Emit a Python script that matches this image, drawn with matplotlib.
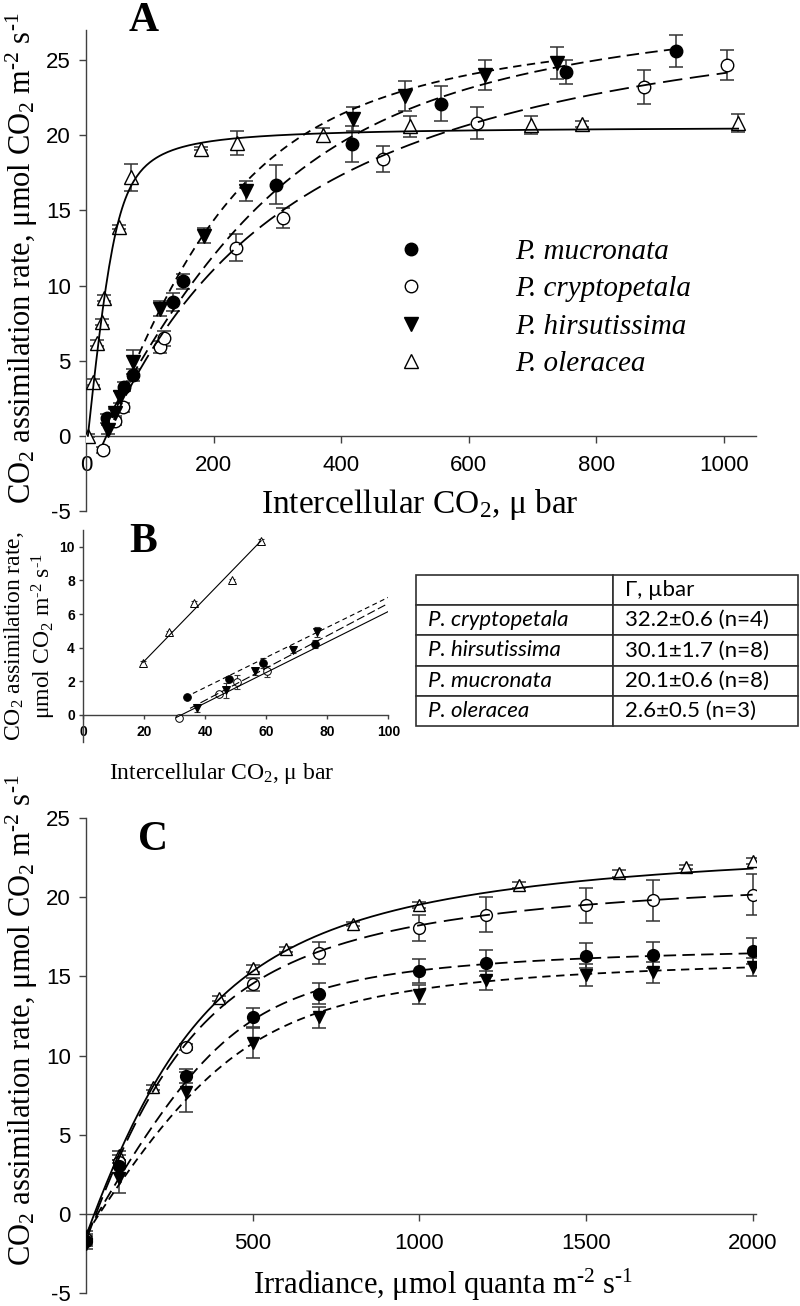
import matplotlib
matplotlib.use("Agg")
import matplotlib.pyplot as plt
import numpy as np

plt.rcParams["mathtext.fontset"] = "custom"
plt.rcParams["mathtext.rm"] = "Liberation Serif"
plt.rcParams["mathtext.it"] = "Liberation Serif:italic"
plt.rcParams["mathtext.bf"] = "Liberation Serif:bold"
plt.rcParams["axes.unicode_minus"] = False
plt.rcParams["lines.scale_dashes"] = False

SERIF = "Liberation Serif"
SANS = "Liberation Sans"
AXIS_COLOR = "#404040"
BAR_COLOR = "#333333"

# ---------------- panel A: A/Ci curves ----------------
a_mucro_x = [32.4, 59.6, 74, 136, 152.7, 298, 417, 556, 753, 924]
a_mucro_y = [1.17, 3.27, 4.04, 8.9, 10.3, 16.7, 19.4, 22.1, 24.2, 25.6]
a_mucro_e = [0.3, 0.3, 0.4, 0.6, 0.5, 1.3, 1.2, 1.15, 0.8, 1.05]

a_crypt_x = [26, 45.5, 58.5, 116, 122, 235, 308.5, 466, 613, 874, 1005]
a_crypt_y = [-0.93, 1.0, 1.9, 5.9, 6.5, 12.5, 14.5, 18.4, 20.8, 23.2, 24.7]
a_crypt_e = [0.2, 0.3, 0.3, 0.4, 0.5, 0.9, 0.66, 0.85, 1.05, 1.13, 1.0]

a_hirsu_x = [35, 45.5, 53, 74, 116, 185, 250, 418, 500, 626, 738]
a_hirsu_y = [0.4, 1.5, 2.6, 4.9, 8.45, 13.3, 16.3, 21.1, 22.6, 24.0, 24.8]
a_hirsu_e = [0.3, 0.3, 0.4, 0.8, 0.5, 0.5, 0.65, 0.8, 1.0, 1.0, 1.07]

a_olera_x = [3.6, 11.5, 16.7, 24.6, 28, 52, 70, 181, 236, 371, 507, 698, 777, 1022]
a_olera_y = [0.0, 3.6, 6.2, 7.6, 9.2, 13.9, 17.2, 19.1, 19.5, 20.0, 20.6, 20.7, 20.75, 20.8]
a_olera_e = [0.1, 0.2, 0.2, 0.2, 0.2, 0.15, 0.9, 0.1, 0.8, 0.45, 0.7, 0.6, 0.2, 0.6]

# fitted curves: (phi, Amax, theta, x0) and x range
a_fit = {
    "mucro": ((0.08, 30.0, 0.7, 20.0), (28, 924)),
    "crypt": ((0.095, 31.0, 0.2, 32.0), (26, 1005)),
    "hirsu": ((0.11, 28.5, 0.7, 30.0), (33, 738)),
    "olera": ((0.40, 20.6, 0.85, 3.0), (3, 1022)),
}

# ---------------- panel B: initial slopes ----------------
b_mucro_x = [33.9, 47.9, 59.0, 76.0]
b_mucro_y = [1.09, 2.12, 3.08, 4.2]
b_mucro_e = [0.05, 0.1, 0.3, 0.25]

b_crypt_x = [31.5, 44.5, 50.3, 60.1]
b_crypt_y = [-0.16, 1.23, 1.96, 2.58]
b_crypt_e = [0.05, 0.1, 0.4, 0.3]

b_hirsu_x = [37.2, 46.7, 56.3, 68.7, 76.7]
b_hirsu_y = [0.4, 1.47, 2.58, 3.87, 4.94]
b_hirsu_e = [0.25, 0.45, 0.2, 0.2, 0.3]

b_olera_x = [19.5, 28.2, 36.4, 48.6, 58.3]
b_olera_y = [3.08, 4.9, 6.65, 8.0, 10.35]
b_olera_e = [0.1, 0.1, 0.1, 0.1, 0.1]

# regression lines: (x-intercept, slope) and x range
b_fit = {
    "mucro": ((21.7, 0.0893), (33.5, 100)),
    "crypt": ((32.2, 0.0907), (30.5, 100)),
    "hirsu": ((31.0, 0.0961), (35.0, 100)),
    "olera": ((2.9, 0.187), (19.5, 58.3)),
}

table_species = ["P. cryptopetala", "P. hirsutissima", "P. mucronata", "P. oleracea"]
table_gamma = ["32.2\u00b10.6 (n=4)", "30.1\u00b11.7 (n=8)", "20.1\u00b10.6 (n=8)", "2.6\u00b10.5 (n=3)"]

# ---------------- panel C: light curves ----------------
c_olera_x = [0, 100, 200, 400, 500, 600, 800, 1000, 1300, 1600, 1800, 2000]
c_olera_y = [-1.4, 3.7, 8.0, 13.6, 15.5, 16.7, 18.3, 19.5, 20.75, 21.5, 21.9, 22.3]
c_olera_e = [0.3, 0.3, 0.15, 0.15, 0.2, 0.15, 0.15, 0.2, 0.2, 0.2, 0.15, 0.2]

c_x = [0, 100, 300, 500, 700, 1000, 1200, 1500, 1700, 2000]
c_crypt_y = [-1.6, 3.3, 10.55, 14.5, 16.5, 18.05, 18.9, 19.5, 19.8, 20.15]
c_crypt_e = [0.3, 0.4, 0.2, 0.4, 0.7, 0.83, 1.1, 1.1, 1.3, 1.3]
c_mucro_y = [-1.7, 3.0, 8.7, 12.4, 13.9, 15.35, 15.85, 16.3, 16.36, 16.6]
c_mucro_e = [0.3, 0.4, 0.45, 0.6, 0.65, 0.77, 0.8, 0.8, 0.83, 0.83]
c_hirsu_y = [-1.9, 2.27, 7.7, 10.8, 12.4, 13.85, 14.75, 15.1, 15.25, 15.6]
c_hirsu_e = [0.3, 0.95, 1.25, 0.93, 0.67, 0.6, 0.6, 0.7, 0.65, 0.55]

c_fit = {
    "mucro": ((0.036, 17.2, 0.85, 35.0), (0, 2000)),
    "crypt": ((0.055, 22.0, 0.6, 30.0), (0, 2000)),
    "hirsu": ((0.032, 16.6, 0.8, 40.0), (0, 2000)),
    "olera": ((0.055, 24.0, 0.6, 25.0), (0, 2000)),
}

LABELS = {"mucro": "P. mucronata", "crypt": "P. cryptopetala",
          "hirsu": "P. hirsutissima", "olera": "P. oleracea"}
MARKERS = {"mucro": ("o", "black"), "crypt": ("o", "white"),
           "hirsu": ("v", "black"), "olera": ("^", "white")}
DASHES = {"mucro": (9, 4.5), "crypt": (14, 5.5), "hirsu": (6, 4), "olera": None}


def nrh(x, phi, amax, theta, x0):
    """Non-rectangular hyperbola shifted to the compensation point x0."""
    q = phi * (x - x0)
    s = q + amax
    return (s - np.sqrt(s * s - 4 * theta * q * amax)) / (2 * theta)


def px(x, y):
    # pixel position on the 800x1306 canvas -> figure fraction
    return x / 800, 1 - y / 1306


def style_axes(ax, font, tick_len, pad_x, pad_y, weight="normal"):
    for side in ("top", "right"):
        ax.spines[side].set_visible(False)
    ax.spines["bottom"].set_position(("data", 0))
    for side in ("left", "bottom"):
        ax.spines[side].set_color(AXIS_COLOR)
        ax.spines[side].set_linewidth(1.0)
    ax.tick_params(direction="out", length=tick_len, width=1.0, color=AXIS_COLOR,
                   labelsize=font)
    ax.tick_params(axis="x", pad=pad_x)
    ax.tick_params(axis="y", pad=pad_y)
    for lab in ax.get_xticklabels() + ax.get_yticklabels():
        lab.set_fontfamily(SANS)
        lab.set_fontweight(weight)


def draw_series(ax, key, x, y, e, ms, mew, cap, elw):
    marker, face = MARKERS[key]
    ax.errorbar(x, y, yerr=e, fmt="none", ecolor=BAR_COLOR, elinewidth=elw,
                capsize=cap, capthick=elw, zorder=2)
    (h,) = ax.plot(x, y, ls="none", marker=marker, ms=ms, mfc=face, mec="black",
                   mew=mew, zorder=3, label=LABELS[key])
    return h


def draw_curve(ax, key, params, xr, lw, dashes):
    xs = np.linspace(xr[0], xr[1], 400)
    (ln,) = ax.plot(xs, nrh(xs, *params), color="black", lw=lw, zorder=4)
    if dashes is not None:
        ln.set_dashes(dashes)


fig = plt.figure(figsize=(8, 13.06), dpi=100)

units = r"$\mathregular{\mu}$mol CO$_2$ m$^{\text{-2}}$ s$^{\text{-1}}$"
ylab = "CO$_2$ assimilation rate, " + units

# ---- A ----
axA = fig.add_axes([86 / 800, 1 - 511 / 1306, 670 / 800, 481 / 1306])
axA.set_xlim(0, 1050)
axA.set_ylim(-5, 27)
axA.set_xticks(range(0, 1001, 200))
axA.set_yticks(range(-5, 26, 5))
a_sets = {
    "mucro": (a_mucro_x, a_mucro_y, a_mucro_e),
    "crypt": (a_crypt_x, a_crypt_y, a_crypt_e),
    "hirsu": (a_hirsu_x, a_hirsu_y, a_hirsu_e),
    "olera": (a_olera_x, a_olera_y, a_olera_e),
}
handles = []
for key, (x, y, e) in a_sets.items():
    ms = 9 if MARKERS[key][0] == "o" else 10
    handles.append(draw_series(axA, key, x, y, e, ms, 1.0, 4.7, 1.1))
    draw_curve(axA, key, *a_fit[key], lw=1.3, dashes=DASHES[key])
style_axes(axA, 16, 5, 9, 6)
axA.legend(handles=handles, loc="upper left", bbox_to_anchor=(463, 14.1),
           bbox_transform=axA.transData, frameon=False, borderpad=0,
           handlelength=1.0, handletextpad=3.1, labelspacing=0.38,
           prop={"family": SERIF, "style": "italic", "size": 21})

# ---- B ----
axB = fig.add_axes([83.3 / 800, 1 - 741.7 / 1306, 305 / 800, 211.7 / 1306])
axB.set_xlim(0, 100)
axB.set_ylim(-1.6, 11)
axB.set_xticks(range(0, 101, 20))
axB.set_yticks(range(0, 11, 2))
b_sets = {
    "olera": (b_olera_x, b_olera_y, b_olera_e),
    "mucro": (b_mucro_x, b_mucro_y, b_mucro_e),
    "crypt": (b_crypt_x, b_crypt_y, b_crypt_e),
    "hirsu": (b_hirsu_x, b_hirsu_y, b_hirsu_e),
}
b_dashes = {"mucro": (3.5, 2.5), "hirsu": (6, 2.5), "crypt": None, "olera": None}
for key, (x, y, e) in b_sets.items():
    draw_series(axB, key, x, y, e, 5.5, 0.7, 2.5, 0.8)
    (g, slope), (x0, x1) = b_fit[key]
    xs = np.array([x0, x1])
    (ln,) = axB.plot(xs, slope * (xs - g), color="black", lw=0.8, zorder=4)
    if b_dashes[key] is not None:
        ln.set_dashes(b_dashes[key])
style_axes(axB, 10, 3, 4, 3, weight="bold")

# ---- table ----
axT = fig.add_axes([416 / 800, 1 - 726 / 1306, 382 / 800, 151 / 1306])
axT.axis("off")
cells = [["", "\u0393, \u00b5bar"]] + [[s, g] for s, g in zip(table_species, table_gamma)]
tab = axT.table(cellText=cells, colWidths=[197 / 382, 185 / 382], bbox=[0, 0, 1, 1],
                cellLoc="left")
tab.auto_set_font_size(False)
for (r, c), cell in tab.get_celld().items():
    cell.set_edgecolor("#303030")
    cell.set_linewidth(1.2)
    cell.PAD = 0.06 if c == 0 else 0.065
    t = cell.get_text()
    t.set_fontsize(16)
    t.set_fontfamily(["Lato", "DejaVu Sans"])
    if c == 0 and r > 0:
        t.set_fontstyle("italic")

# ---- C ----
axC = fig.add_axes([86 / 800, 1 - 1293 / 1306, 670 / 800, 475 / 1306])
axC.set_xlim(0, 2010)
axC.set_ylim(-5, 25)
axC.set_xticks(range(500, 2001, 500))
axC.set_yticks(range(-5, 26, 5))
c_sets = {
    "olera": (c_olera_x, c_olera_y, c_olera_e),
    "crypt": (c_x, c_crypt_y, c_crypt_e),
    "mucro": (c_x, c_mucro_y, c_mucro_e),
    "hirsu": (c_x, c_hirsu_y, c_hirsu_e),
}
for key, (x, y, e) in c_sets.items():
    ms = 8.5 if MARKERS[key][0] == "o" else 9
    draw_series(axC, key, x, y, e, ms, 1.0, 4.7, 1.1)
    draw_curve(axC, key, *c_fit[key], lw=1.3, dashes=DASHES[key])
style_axes(axC, 16, 5, 9, 6)

# ---- labels ----
fig.text(*px(22, 258), ylab, rotation=90, ha="center", va="center",
         family=SERIF, fontsize=22)
fig.text(*px(420, 505), r"Intercellular CO$_2$, $\mathregular{\mu}$ bar",
         ha="center", va="center", family=SERIF, fontsize=24)
fig.text(*px(30, 636), "CO$_2$ assimilation rate,\n" + units,
         rotation=90, ha="center", va="center", family=SERIF, fontsize=17,
         multialignment="center")
fig.text(*px(222, 773), r"Intercellular CO$_2$, $\mathregular{\mu}$ bar",
         ha="center", va="center", family=SERIF, fontsize=17)
fig.text(*px(22, 1020), ylab, rotation=90, ha="center", va="center",
         family=SERIF, fontsize=22)
fig.text(*px(443, 1285),
         r"Irradiance, $\mathregular{\mu}$mol quanta m$^{\text{-2}}$ s$^{\text{-1}}$",
         ha="center", va="center", family=SERIF, fontsize=22)

for letter, (x, y) in {"A": (144, 21), "B": (143, 542), "C": (153, 840)}.items():
    fig.text(*px(x, y), letter, ha="center", va="center", family=SERIF,
             fontweight="bold", fontsize=30)

fig.savefig("out.png", dpi=100)
